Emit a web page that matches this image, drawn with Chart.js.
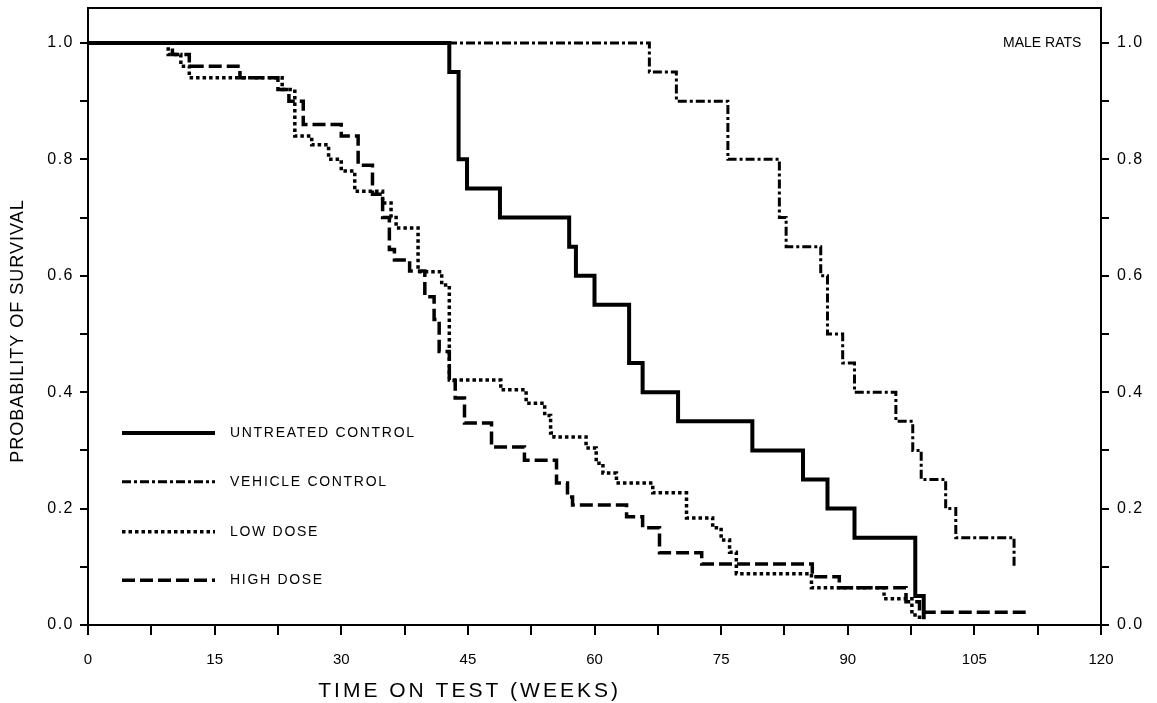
<!DOCTYPE html>
<html>
<head>
<meta charset="utf-8">
<title>Male rats survival</title>
<script src="https://cdn.jsdelivr.net/npm/chart.js@4.4.1/dist/chart.umd.min.js"></script>
<style>
    html, body { margin: 0; padding: 0; background: #fff; }
    #wrap { width: 1157px; height: 703px; position: relative; }
</style>
</head>
<body>
<div id="wrap"><canvas id="chart"></canvas></div>
<script>
// Survival curves (weeks on test, probability)
var untreatedWeeks = [0, 42.8, 43.9, 44.9, 48.8, 57.0, 57.8, 60.0, 64.1, 65.7, 69.9, 78.7, 84.7, 87.6, 90.8, 98.0, 99.0];
var untreatedSurv  = [1.0, 0.95, 0.80, 0.75, 0.70, 0.65, 0.60, 0.55, 0.45, 0.40, 0.35, 0.30, 0.25, 0.20, 0.15, 0.05, 0.01];

var vehicleWeeks = [0, 66.5, 69.7, 75.8, 81.9, 82.7, 86.8, 87.6, 89.4, 90.8, 95.7, 97.7, 98.7, 101.6, 102.8, 109.7];
var vehicleSurv  = [1.0, 0.95, 0.90, 0.80, 0.70, 0.65, 0.60, 0.50, 0.45, 0.40, 0.35, 0.30, 0.25, 0.20, 0.15, 0.10];

var lowDoseWeeks = [0, 9.5, 11, 12, 23, 24.5, 26.5, 28.5, 30, 31.6, 34.9, 35.9, 36.5, 39.1, 41.9, 42.8, 48.9, 51.9,
    54.1, 54.8, 55.2, 59.0, 60.2, 61.0, 62.6, 66.9, 70.9, 74.0, 75.0, 76.0, 76.8, 85.7, 94.3, 97.6, 98.5];
var lowDoseSurv  = [1.0, 0.98, 0.96, 0.94, 0.92, 0.84, 0.825, 0.80, 0.78, 0.745, 0.725, 0.70, 0.682, 0.607, 0.584, 0.421, 0.404, 0.381,
    0.36, 0.33, 0.323, 0.304, 0.278, 0.261, 0.244, 0.227, 0.184, 0.167, 0.146, 0.125, 0.088, 0.064, 0.045, 0.017, 0.01];

var highDoseWeeks = [0, 10, 12, 18, 22.5, 23.8, 25.5, 30, 32, 33.7, 34.9, 35.7, 36.3, 38.1, 39.9, 41.0, 41.6, 42.8,
    43.5, 44.6, 47.8, 51.7, 55.5, 56.8, 57.4, 63.8, 65.7, 67.7, 72.7, 85.8, 89.0, 96.9, 98.5, 111.1];
var highDoseSurv  = [1.0, 0.98, 0.96, 0.94, 0.92, 0.90, 0.86, 0.84, 0.79, 0.74, 0.70, 0.645, 0.627, 0.608, 0.564, 0.525, 0.47, 0.42,
    0.39, 0.347, 0.306, 0.283, 0.244, 0.22, 0.206, 0.186, 0.167, 0.124, 0.105, 0.083, 0.064, 0.04, 0.022, 0.022];

var seriesNames = ["UNTREATED CONTROL", "VEHICLE CONTROL", "LOW DOSE", "HIGH DOSE"];
var xTickStep = 7.5;
var xLabelStep = 15;
var yTickStep = 0.1;
var chartLabel = "MALE RATS";
var xTitle = "TIME ON TEST (WEEKS)";
var yTitle = "PROBABILITY OF SURVIVAL";

var FONT = "'Liberation Sans', Arial, Helvetica, sans-serif";
var INK = "#000";

function toPoints(xs, ys) {
    return xs.map(function (x, i) { return { x: x, y: ys[i] }; });
}

var lineStyles = [
    { width: 4, dash: [] },
    { width: 3, dash: [9, 3, 3, 3] },
    { width: 3.5, dash: [3.5, 3] },
    { width: 3.5, dash: [13, 5] }
];

var seriesData = [
    toPoints(untreatedWeeks, untreatedSurv),
    toPoints(vehicleWeeks, vehicleSurv),
    toPoints(lowDoseWeeks, lowDoseSurv),
    toPoints(highDoseWeeks, highDoseSurv)
];

var datasets = seriesNames.map(function (name, i) {
    return {
        label: name,
        data: seriesData[i],
        stepped: "before",
        borderColor: INK,
        borderWidth: lineStyles[i].width,
        borderDash: lineStyles[i].dash,
        borderCapStyle: "butt",
        borderJoinStyle: "miter",
        pointRadius: 0,
        fill: false
    };
});

function yTickLabel(value) {
    var n = Math.round(value * 10);
    return n % 2 === 0 ? (n / 10).toFixed(1) : "";
}

function xTickLabel(value) {
    var r = value / xLabelStep;
    return Math.abs(r - Math.round(r)) < 1e-6 ? String(Math.round(value)) : "";
}

// no extra room for half labels, the frame is sized by hand
function noPadding(scale) {
    scale.paddingTop = 0;
    scale.paddingBottom = 0;
    scale.paddingLeft = 0;
    scale.paddingRight = 0;
}

var yAxisBase = {
    type: "linear",
    min: 0,
    max: 1.06,
    ticks: {
        stepSize: yTickStep,
        includeBounds: false,
        autoSkip: false,
        color: INK,
        font: { family: FONT, size: 16 },
        callback: yTickLabel
    },
    grid: { display: true, drawOnChartArea: false, drawTicks: true, tickLength: 8, color: INK, lineWidth: 2 },
    border: { display: true, color: INK, width: 2 }
};

// wider spacing for the probability labels
var spacingPlugin = {
    id: "tickSpacing",
    afterLayout: function (chart) {
        ["y", "yRight"].forEach(function (id) {
            var s = chart.scales[id];
            if (!s || s._spaced) return;
            var orig = s.drawLabels;
            s.drawLabels = function (area) {
                var c = this.ctx;
                c.save();
                c.letterSpacing = "1.5px";
                orig.call(this, area);
                c.restore();
            };
            s._spaced = true;
        });
    }
};

// text and legend drawn on top of the plot
var overlayPlugin = {
    id: "overlay",
    afterDraw: function (chart) {
        var ctx = chart.ctx;
        var xs = chart.scales.x;
        var ys = chart.scales.y;
        var area = chart.chartArea;

        ctx.save();
        ctx.fillStyle = INK;
        ctx.strokeStyle = INK;

        // label in the corner
        ctx.font = "14px " + FONT;
        ctx.letterSpacing = "0px";
        ctx.textAlign = "left";
        ctx.textBaseline = "middle";
        ctx.fillText(chartLabel, xs.getPixelForValue(108.4), ys.getPixelForValue(1.0));

        // legend
        var rowY = [0.330, 0.246, 0.160, 0.077];
        var x0 = area.left + 34;
        var x1 = area.left + 127;
        seriesNames.forEach(function (name, i) {
            var py = ys.getPixelForValue(rowY[i]);
            ctx.beginPath();
            ctx.lineWidth = lineStyles[i].width;
            ctx.setLineDash(lineStyles[i].dash);
            ctx.lineCap = "butt";
            ctx.moveTo(x0, py);
            ctx.lineTo(x1, py);
            ctx.stroke();
            ctx.setLineDash([]);
            ctx.font = "14px " + FONT;
            ctx.letterSpacing = "1.7px";
            ctx.fillText(name, area.left + 142, py);
        });

        // axis titles
        ctx.font = "21px " + FONT;
        ctx.letterSpacing = "3px";
        ctx.textAlign = "center";
        ctx.fillText(xTitle, xs.getPixelForValue(45.2), area.bottom + 66);

        ctx.font = "18px " + FONT;
        ctx.letterSpacing = "1px";
        ctx.translate(18, ys.getPixelForValue(0.505));
        ctx.rotate(-Math.PI / 2);
        ctx.fillText(yTitle, 0, 0);
        ctx.restore();
    }
};

new Chart(document.getElementById("chart"), {
    type: "line",
    data: { datasets: datasets },
    plugins: [spacingPlugin, overlayPlugin],
    options: {
        responsive: true,
        maintainAspectRatio: false,
        animation: false,
        layout: { padding: 0 },
        plugins: {
            legend: { display: false },
            tooltip: { enabled: false }
        },
        scales: {
            x: {
                type: "linear",
                position: "bottom",
                min: 0,
                max: 120,
                ticks: {
                    stepSize: xTickStep,
                    autoSkip: false,
                    maxRotation: 0,
                    color: INK,
                    padding: 16,
                    font: { family: FONT, size: 15 },
                    callback: xTickLabel
                },
                grid: { display: true, drawOnChartArea: false, drawTicks: true, tickLength: 10, color: INK, lineWidth: 2 },
                border: { display: true, color: INK, width: 2 },
                afterFit: function (scale) { noPadding(scale); scale.height = 78; }
            },
            xTop: {
                type: "linear",
                position: "top",
                min: 0,
                max: 120,
                ticks: { display: false },
                grid: { display: false },
                border: { display: true, color: INK, width: 2 },
                afterFit: function (scale) { noPadding(scale); scale.height = 8; }
            },
            y: Object.assign({}, yAxisBase, {
                position: "left",
                ticks: Object.assign({}, yAxisBase.ticks, { padding: 6 }),
                afterFit: function (scale) { noPadding(scale); scale.width = 88; }
            }),
            yRight: Object.assign({}, yAxisBase, {
                position: "right",
                ticks: Object.assign({}, yAxisBase.ticks, { padding: 8 }),
                afterFit: function (scale) { noPadding(scale); scale.width = 56; }
            })
        }
    }
});
</script>
</body>
</html>
